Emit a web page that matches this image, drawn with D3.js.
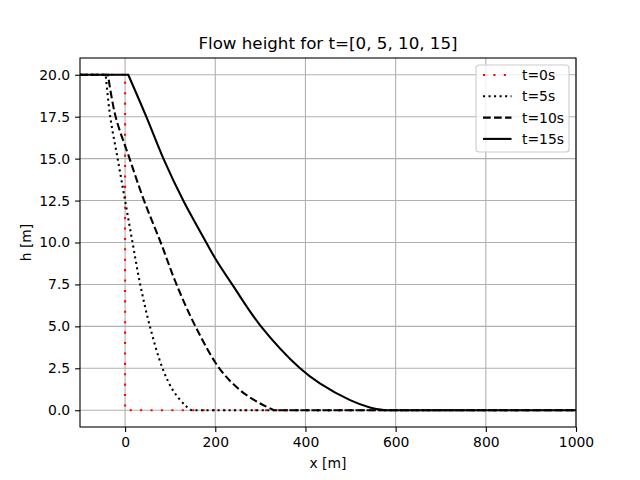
<!DOCTYPE html>
<html>
<head>
<meta charset="utf-8">
<script src="https://cdn.jsdelivr.net/npm/d3@7"></script>
<style>
  body { margin: 0; background: #fff; }
  svg { font-family: "DejaVu Sans", sans-serif; }
</style>
</head>
<body>
<div id="chart"></div>
<script>
/*Values*/
var seriesNames = ["t=0s", "t=5s", "t=10s", "t=15s"];
var xT0 = [-100, 0, 0, 1000];
var hT0 = [20, 20, 0, 0];
var xT5 = [-100, -43, -33, -16.5, 0, 16.5, 33.5, 55, 83, 107, 133, 147, 1000];
var hT5 = [20, 20, 17.5, 15, 12.5, 10, 7.5, 5, 2.5, 1.15, 0.3, 0, 0];
var xT10 = [-100, -38, -21, 10, 42, 79, 114, 156, 209, 257, 300, 330, 1000];
var hT10 = [20, 20, 17.5, 15, 12.5, 10, 7.5, 5, 2.5, 1.15, 0.4, 0, 0];
var xT15 = [-100, 7, 47, 85, 129, 180, 200, 240, 300, 388, 432, 499, 543, 577, 1000];
var hT15 = [20, 20, 17.5, 15, 12.5, 10, 9.05, 7.4, 5.05, 2.5, 1.6, 0.6, 0.16, 0, 0];
var xTicks = [0, 200, 400, 600, 800, 1000];
var yTicks = [0, 2.5, 5, 7.5, 10, 12.5, 15, 17.5, 20];

/*Plot area*/
var plotLeft = 80, plotRight = 576, plotTop = 58, plotBottom = 427;

var svg = d3.select("#chart")
    .append("svg")
    .attr("width", 640)
    .attr("height", 480);

var xScale = d3.scaleLinear().domain([-100, 1000]).range([plotLeft, plotRight]);
var yScale = d3.scaleLinear().domain([-1, 21]).range([plotBottom, plotTop]);

/*Grid*/
var grid = svg.append("g");
grid.selectAll(".gx").data(xTicks).join("line")
    .attr("x1", d => xScale(d)).attr("x2", d => xScale(d))
    .attr("y1", plotTop).attr("y2", plotBottom)
    .attr("stroke", "#b0b0b0").attr("stroke-width", 1.1);
grid.selectAll(".gy").data(yTicks).join("line")
    .attr("y1", d => yScale(d)).attr("y2", d => yScale(d))
    .attr("x1", plotLeft).attr("x2", plotRight)
    .attr("stroke", "#b0b0b0").attr("stroke-width", 1.1);

/*Lines*/
svg.append("clipPath").attr("id", "clip")
    .append("rect").attr("x", plotLeft).attr("y", plotTop)
    .attr("width", plotRight - plotLeft).attr("height", plotBottom - plotTop);

var series = [
    {name: seriesNames[0], xs: xT0, hs: hT0, color: "red", dash: "2.08,8.33", smooth: false},
    {name: seriesNames[1], xs: xT5, hs: hT5, color: "black", dash: "2.08,3.44", smooth: true},
    {name: seriesNames[2], xs: xT10, hs: hT10, color: "black", dash: "7.7,3.33", smooth: true},
    {name: seriesNames[3], xs: xT15, hs: hT15, color: "black", dash: null, smooth: true}
];

var straight = d3.line()
    .x(d => xScale(d[0]))
    .y(d => yScale(d[1]));
var curved = d3.line()
    .x(d => xScale(d[0]))
    .y(d => yScale(d[1]))
    .curve(d3.curveCatmullRom.alpha(0.5));

/*flat parts straight, falling part smoothed, so the corners stay sharp*/
function pathFor(d) {
    var pts = d.xs.map((x, i) => [x, d.hs[i]]);
    if (!d.smooth) return straight(pts);
    var n = pts.length;
    var mid = curved(pts.slice(1, n - 1));
    return straight(pts.slice(0, 2)) + "L" + mid.slice(1) + "L" +
        xScale(pts[n - 1][0]) + "," + yScale(pts[n - 1][1]);
}

svg.append("g").attr("clip-path", "url(#clip)")
    .selectAll("path")
    .data(series)
    .join("path")
    .attr("fill", "none")
    .attr("stroke", d => d.color)
    .attr("stroke-width", 2.08)
    .attr("stroke-dasharray", d => d.dash)
    .attr("d", pathFor);

/*Axes*/
var xAxis = svg.append("g")
    .attr("transform", "translate(0," + plotBottom + ")")
    .call(d3.axisBottom(xScale).tickValues(xTicks).tickSize(4.9).tickPadding(4.9).tickFormat(d3.format("d")));
var yAxis = svg.append("g")
    .attr("transform", "translate(" + plotLeft + ",0)")
    .call(d3.axisLeft(yScale).tickValues(yTicks).tickSize(4.9).tickPadding(4.9).tickFormat(d3.format(".1f")));
[xAxis, yAxis].forEach(function(a) {
    a.select(".domain").remove();
    a.selectAll("line").attr("stroke", "black").attr("stroke-width", 1.1);
    a.selectAll("text").attr("font-size", "13.9px").attr("fill", "black")
        .attr("font-family", "DejaVu Sans, sans-serif");
});

svg.append("rect")
    .attr("x", plotLeft).attr("y", plotTop)
    .attr("width", plotRight - plotLeft).attr("height", plotBottom - plotTop)
    .attr("fill", "none").attr("stroke", "black").attr("stroke-width", 1.1);

/*Titles*/
svg.append("text")
    .attr("x", (plotLeft + plotRight) / 2).attr("y", 49)
    .attr("text-anchor", "middle")
    .attr("font-size", "16.7px")
    .text("Flow height for t=[0, 5, 10, 15]");
svg.append("text")
    .attr("x", (plotLeft + plotRight) / 2).attr("y", 468)
    .attr("text-anchor", "middle")
    .attr("font-size", "13.9px")
    .text("x [m]");
svg.append("text")
    .attr("transform", "translate(31," + ((plotTop + plotBottom) / 2) + ") rotate(-90)")
    .attr("text-anchor", "middle")
    .attr("font-size", "13.9px")
    .text("h [m]");

/*Legend*/
var legend = svg.append("g").attr("transform", "translate(476,65)");
legend.append("rect")
    .attr("width", 93).attr("height", 87)
    .attr("rx", 3).attr("ry", 3)
    .attr("fill", "white").attr("fill-opacity", 0.8)
    .attr("stroke", "#cccccc").attr("stroke-width", 1.1);
var rows = legend.selectAll(".row").data(series).join("g")
    .attr("transform", (d, i) => "translate(0," + (10 + i * 21.3) + ")");
rows.append("line")
    .attr("x1", 7).attr("x2", 35.5)
    .attr("stroke", d => d.color)
    .attr("stroke-width", 2.08)
    .attr("stroke-dasharray", d => d.dash);
rows.append("text")
    .attr("x", 46).attr("y", 5)
    .attr("font-size", "13.9px")
    .text(d => d.name);
</script>
</body>
</html>
